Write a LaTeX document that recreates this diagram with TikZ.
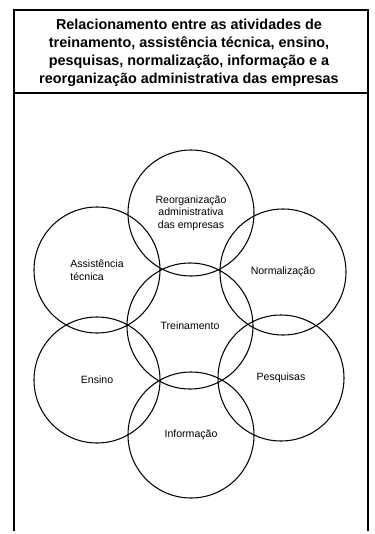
\documentclass[tikz,border=0pt]{standalone}
\usepackage{fontspec}
\setmainfont{Liberation Sans}
\usepackage{tikz}
\usetikzlibrary{positioning}

\begin{document}
\begin{tikzpicture}[x=0.3mm, y=-0.3mm,
    ring/.style={draw, circle, line width=0.9pt, minimum size=37.8mm, inner sep=0pt,
      align=center, font=\fontsize{9}{10.6}\selectfont},
    frameline/.style={line width=0.9pt}]
        \useasboundingbox (0,0) rectangle (374,534);
        % frame and title
        \coordinate (tl) at (14,10);
        \coordinate (tr) at (368,10);
        \coordinate (ml) at (14,93);
        \coordinate (mr) at (368,93);
        \coordinate (bl) at (14,531);
        \coordinate (br) at (368,531);
        \draw[frameline] (bl) -- (tl) -- (tr) -- (br);
        \draw[frameline] (ml) -- (mr);
        \node[font=\bfseries\fontsize{12.3}{15.3}\selectfont, align=center] (title) at (189,53)
          {Relacionamento entre as atividades de\\
           treinamento, assistência técnica, ensino,\\
           pesquisas, normalização, informação e a\\
           reorganização administrativa das empresas};
        % circles
        \node[ring] (trein) at (190,326) {Treinamento};
        \node[ring] (reorg) at (191,213) {Reorganização\\administrativa\\das empresas};
        \node[ring, align=left] (assist) at (97,270) {Assistência\\técnica};
        \node[ring] (norm) at (283,272) {Normalização};
        \node[ring] (ensino) at (97,380) {Ensino};
        \node[ring] (pesq) at (281,378) {Pesquisas};
        \node[ring] (info) at (191,435) {Informação};
      \end{tikzpicture}
\end{document}
